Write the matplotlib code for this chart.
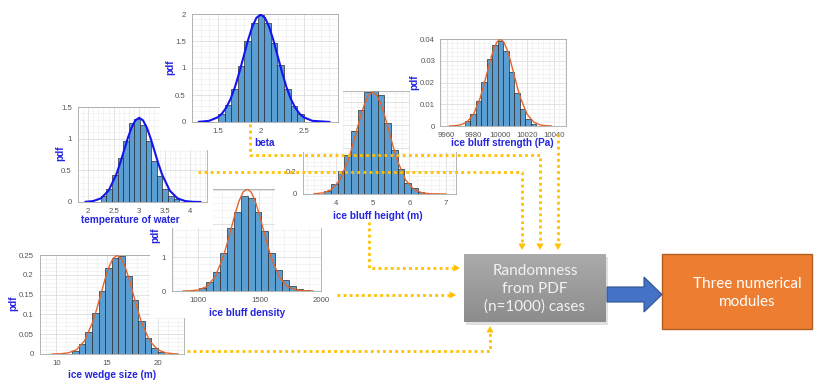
import numpy as np
import matplotlib
matplotlib.use('Agg')
import matplotlib.pyplot as plt
from matplotlib.patches import Rectangle, Polygon
from matplotlib.ticker import AutoMinorLocator, MultipleLocator, FuncFormatter

W, H = 819, 381
BAR = '#5b9fd2'
BLUE_FIT = '#1414f0'
ORANGE_FIT = '#e2642f'
LABEL = '#2525e0'
GOLD = '#ffc000'
TICK = '#555555'

plt.rcParams['font.family'] = ['Liberation Sans', 'DejaVu Sans']

# ---- values ----
# beta
beta_centers = [1.540, 1.617, 1.694, 1.771, 1.848, 1.925, 2.002, 2.079, 2.156, 2.233, 2.310, 2.387, 2.464]
beta_heights = [0.15, 0.31, 0.62, 1.04, 1.50, 1.84, 1.98, 1.84, 1.46, 1.06, 0.61, 0.30, 0.14]
beta_fit_x = [1.28, 1.40, 1.50, 1.55, 1.60, 1.65, 1.70, 1.75, 1.80, 1.85, 1.90, 1.95, 2.00,
              2.05, 2.10, 2.15, 2.20, 2.25, 2.30, 2.35, 2.40, 2.45, 2.50, 2.60, 2.80]
beta_fit_y = [0.003, 0.022, 0.087, 0.158, 0.269, 0.430, 0.646, 0.911, 1.207, 1.502, 1.756, 1.929, 1.99,
              1.929, 1.756, 1.502, 1.207, 0.911, 0.646, 0.430, 0.269, 0.158, 0.087, 0.022, 0.001]

# temperature of water
temp_centers = [2.30, 2.41, 2.52, 2.63, 2.74, 2.85, 2.96, 3.07, 3.18, 3.29, 3.40, 3.51, 3.62, 3.73]
temp_heights = [0.09, 0.20, 0.43, 0.70, 0.96, 1.24, 1.31, 1.22, 0.97, 0.64, 0.41, 0.20, 0.10, 0.04]
temp_fit_x = [1.95, 2.10, 2.25, 2.40, 2.55, 2.625, 2.70, 2.775, 2.85, 2.925, 3.00, 3.075, 3.15,
              3.225, 3.30, 3.375, 3.45, 3.60, 3.75, 3.90, 4.05, 4.20]
temp_fit_y = [0.003, 0.015, 0.058, 0.180, 0.432, 0.609, 0.807, 1.004, 1.174, 1.289, 1.33, 1.289, 1.174,
              1.004, 0.807, 0.609, 0.432, 0.180, 0.058, 0.015, 0.003, 0.0004]

# ice bluff strength (Pa)
str_centers = [9975.4, 9979.5, 9983.6, 9987.7, 9991.8, 9995.9, 10000.0, 10004.1, 10008.2,
               10012.3, 10016.4, 10020.5, 10024.6]
str_heights = [0.0023, 0.0057, 0.0116, 0.0204, 0.0307, 0.0374, 0.0392, 0.0343, 0.0250,
               0.0150, 0.0080, 0.0034, 0.0010]
str_fit_x = [9962, 9965, 9970, 9975, 9980, 9985, 9987.5, 9990, 9992.5, 9995, 9997.5, 10000,
             10002.5, 10005, 10007.5, 10010, 10012.5, 10015, 10020, 10025, 10030, 10035, 10038]
str_fit_y = [0.00003, 0.0001, 0.00044, 0.00175, 0.0054, 0.01296, 0.01827, 0.0242, 0.03012, 0.0352,
             0.03867, 0.0399, 0.03867, 0.0352, 0.03012, 0.0242, 0.01827, 0.01296, 0.0054, 0.00175,
             0.00044, 0.0001, 0.00003]

# ice bluff height (m)
hgt_centers = [3.770, 3.952, 4.134, 4.316, 4.498, 4.680, 4.862, 5.044, 5.226, 5.408, 5.590,
               5.772, 5.954, 6.136, 6.318]
hgt_heights = [0.03, 0.09, 0.20, 0.34, 0.55, 0.73, 0.89, 0.90, 0.86, 0.62, 0.38, 0.22, 0.10, 0.05, 0.02]
hgt_fit_x = [3.40, 3.65, 3.875, 4.10, 4.325, 4.4375, 4.55, 4.6625, 4.775, 4.8875, 5.00, 5.1125,
             5.225, 5.3375, 5.45, 5.5625, 5.675, 5.90, 6.125, 6.35, 6.575, 7.00]
hgt_fit_y = [0.0016, 0.0098, 0.0389, 0.1199, 0.2877, 0.4056, 0.5374, 0.6688, 0.7819, 0.8587, 0.886,
             0.8587, 0.7819, 0.6688, 0.5374, 0.4056, 0.2877, 0.1199, 0.0389, 0.0098, 0.0019, 0.0]

# ice bluff density (pdf in 1e-3)
den_centers = [1040, 1096, 1152, 1208, 1264, 1320, 1376, 1432, 1488, 1544, 1600, 1656, 1712,
               1768, 1824, 1880]
den_heights = [0.08, 0.28, 0.57, 1.14, 1.88, 2.36, 2.83, 2.75, 2.34, 1.78, 1.14, 0.62, 0.33,
               0.15, 0.06, 0.02]
den_fit_x = [880, 941, 1007, 1072.5, 1138, 1203.5, 1236, 1269, 1302, 1334.5, 1367, 1400, 1433,
             1465.5, 1498, 1531, 1564, 1596.5, 1662, 1727.5, 1793, 1859, 1935]
den_fit_y = [0.0012, 0.0066, 0.0336, 0.133, 0.41, 0.984, 1.387, 1.838, 2.287, 2.674, 2.937, 3.03,
             2.937, 2.674, 2.287, 1.838, 1.387, 0.984, 0.41, 0.133, 0.0336, 0.0066, 0.001]

# ice wedge size (m)
wdg_centers = [11.90, 12.55, 13.20, 13.85, 14.50, 15.15, 15.80, 16.45, 17.10, 17.75, 18.40,
               19.05, 19.70, 20.35]
wdg_heights = [0.008, 0.024, 0.056, 0.104, 0.159, 0.216, 0.243, 0.247, 0.197, 0.136, 0.083,
               0.040, 0.016, 0.006]
wdg_fit_x = [9.6, 10.4, 11.2, 12.0, 12.8, 13.6, 14.0, 14.4, 14.8, 15.2, 15.6, 16.0, 16.4, 16.8,
             17.2, 17.6, 18.0, 18.4, 19.2, 20.0, 20.8, 21.6, 22.0]
wdg_fit_y = [0.0001, 0.00055, 0.0028, 0.0109, 0.0337, 0.0808, 0.114, 0.151, 0.188, 0.2197, 0.2413,
             0.249, 0.2413, 0.2197, 0.188, 0.151, 0.114, 0.0808, 0.0337, 0.0109, 0.0028, 0.00055, 0.0002]

fig = plt.figure(figsize=(W / 100, H / 100), dpi=100)
fig.patch.set_facecolor('white')


def layer():
    # full-figure axes in pixel coordinates (y down)
    ax = fig.add_axes([0, 0, 1, 1])
    ax.set_xlim(0, W)
    ax.set_ylim(H, 0)
    ax.axis('off')
    return ax


def white(ax, l, t, r, b):
    ax.add_patch(Rectangle((l, t), r - l, b - t, facecolor='white', edgecolor='none'))


def label(ax, x, y, s, rot=0):
    ax.text(x, y, s, ha='center', va='center', rotation=rot, color=LABEL,
            fontsize=7.2, fontweight='bold')


def panel(box, centers, heights, fx, fy, fcol, flw, xlim, ylim, xstep, ystep, ylab_max=None,
          ypad=4.5):
    l, t, r, b = box
    ax = fig.add_axes([l / W, 1 - b / H, (r - l) / W, (b - t) / H])
    ax.bar(centers, heights, width=centers[1] - centers[0], color=BAR,
           edgecolor='#2b2b2b', linewidth=0.5, zorder=2)
    ax.plot(fx, fy, color=fcol, lw=flw, zorder=3)
    ax.set_xlim(xlim)
    ax.set_ylim(ylim)
    ax.xaxis.set_major_locator(MultipleLocator(xstep))
    ax.yaxis.set_major_locator(MultipleLocator(ystep))
    ax.xaxis.set_minor_locator(AutoMinorLocator(5))
    ax.yaxis.set_minor_locator(AutoMinorLocator(5))
    ax.xaxis.set_major_formatter(FuncFormatter(lambda v, p: f'{v:g}'))
    # labels above the cropped part of the screenshot are not shown
    ymx = ylim[1] if ylab_max is None else ylab_max
    ax.yaxis.set_major_formatter(FuncFormatter(
        lambda v, p: f'{v:g}' if v <= ymx + 1e-9 else ''))
    ax.grid(which='major', color='#d6d6d6', lw=0.5)
    ax.grid(which='minor', color='#ededed', lw=0.4)
    ax.set_axisbelow(True)
    ax.tick_params(which='both', direction='in', length=0, labelsize=5.6, labelcolor=TICK)
    ax.tick_params(axis='x', pad=4)
    ax.tick_params(axis='y', pad=ypad)
    for s in ax.spines.values():
        s.set_color('#a8a8a8')
        s.set_linewidth(0.6)
    return ax


# ice wedge size (bottom-most)
L = layer()
label(L, 13, 303, 'pdf', 90)
label(L, 112, 375, 'ice wedge size (m)')
panel((40, 255, 184, 354), wdg_centers, wdg_heights, wdg_fit_x, wdg_fit_y, ORANGE_FIT, 1.0,
      (8.4, 22.6), (0, 0.25), 5, 0.05)

# ice bluff density
L = layer()
white(L, 150, 228, 323, 318)
white(L, 205, 183, 282, 228)
label(L, 155, 235, 'pdf', 90)
label(L, 247, 313, 'ice bluff density')
panel((172, 189, 321, 291), den_centers, den_heights, den_fit_x, den_fit_y, ORANGE_FIT, 1.0,
      (790, 2000), (0, 3.03), 500, 1, ylab_max=1)
L = layer()
white(L, 152, 180, 213, 228)
white(L, 275, 180, 326, 228)

# temperature of water
L = layer()
label(L, 60, 153, 'pdf', 90)
label(L, 130, 220, 'temperature of water')
panel((78, 107, 207, 202), temp_centers, temp_heights, temp_fit_x, temp_fit_y, BLUE_FIT, 1.5,
      (1.8, 4.33), (0, 1.5), 0.5, 0.5)

# ice bluff height
L = layer()
label(L, 378, 216, 'ice bluff height (m)')
panel((303, 91, 456, 194), hgt_centers, hgt_heights, hgt_fit_x, hgt_fit_y, ORANGE_FIT, 1.0,
      (3.1, 7.27), (0, 0.896), 1, 0.2, ylab_max=0.2)
L = layer()
white(L, 283, 84, 343, 152)
white(L, 410, 84, 462, 152)

# beta
L = layer()
white(L, 160, 0, 340, 150)
label(L, 170, 67, 'pdf', 90)
label(L, 265, 143, 'beta')
panel((192, 14, 338, 122), beta_centers, beta_heights, beta_fit_x, beta_fit_y, BLUE_FIT, 1.5,
      (1.2, 2.9), (0, 2), 0.5, 0.5)

# ice bluff strength
L = layer()
white(L, 410, 28, 570, 148)
label(L, 414, 82, 'pdf', 90)
label(L, 502, 143, 'ice bluff strength (Pa)')
panel((440, 39, 566, 126), str_centers, str_heights, str_fit_x, str_fit_y, ORANGE_FIT, 1.0,
      (9955, 10049), (0, 0.04), 20, 0.01, ypad=3.5)

# ---- flow overlay ----
O = layer()
dots = dict(color=GOLD, lw=2.0, ls=(0, (1, 1.2)))


def head(ax, x, y, d):
    s = 3.6
    n = 6.5
    if d == 'down':
        pts = [(x - s, y - n), (x + s, y - n), (x, y)]
    elif d == 'up':
        pts = [(x - s, y + n), (x + s, y + n), (x, y)]
    else:
        pts = [(x - n, y - s), (x - n, y + s), (x, y)]
    ax.add_patch(Polygon(pts, closed=True, facecolor=GOLD, edgecolor='none'))


O.plot([250, 250, 540, 540], [124, 155, 155, 244], **dots)
head(O, 540, 250, 'down')
O.plot([198, 522, 522], [172, 172, 244], **dots)
head(O, 522, 250, 'down')
O.plot([558, 558], [134, 244], **dots)
head(O, 558, 250, 'down')
O.plot([369, 369, 453], [222, 268, 268], **dots)
head(O, 460, 268, 'right')
O.plot([337, 449], [295, 295], **dots)
head(O, 456, 295, 'right')
O.plot([187, 490, 490], [351, 351, 333], **dots)
head(O, 490, 326, 'up')

# grey box with vertical gradient and soft shadow
O.add_patch(Rectangle((466, 257), 142, 68, facecolor='#000000', alpha=0.12, edgecolor='none'))
grad = np.linspace(0.67, 0.55, 64)[:, None, None] * np.ones((1, 1, 3))
O.imshow(grad, extent=(464, 606, 322, 254), aspect='auto', interpolation='bilinear', zorder=2)
O.set_xlim(0, W)
O.set_ylim(H, 0)
O.text(535, 289, 'Randomness\nfrom PDF\n(n=1000) cases', ha='center', va='center',
       color='#f2f2f2', fontsize=11, family='Lato', linespacing=1.35, zorder=3)

# blue block arrow
O.add_patch(Polygon([(607, 287), (644, 287), (644, 277), (662, 294.5), (644, 312), (644, 302),
                     (607, 302)], closed=True, facecolor='#4472c4', edgecolor='#2f528f', lw=0.8,
                    zorder=3))

# orange box
O.add_patch(Rectangle((662, 254), 150, 75, facecolor='#ed7d31', edgecolor='#b45c22', lw=1.0,
                      zorder=3))
O.text(747, 293, 'Three numerical\nmodules', ha='center', va='center', color='#ffffff',
       fontsize=11, family='Lato', linespacing=1.35, zorder=4)

fig.savefig('out.png', dpi=100, facecolor='white')
